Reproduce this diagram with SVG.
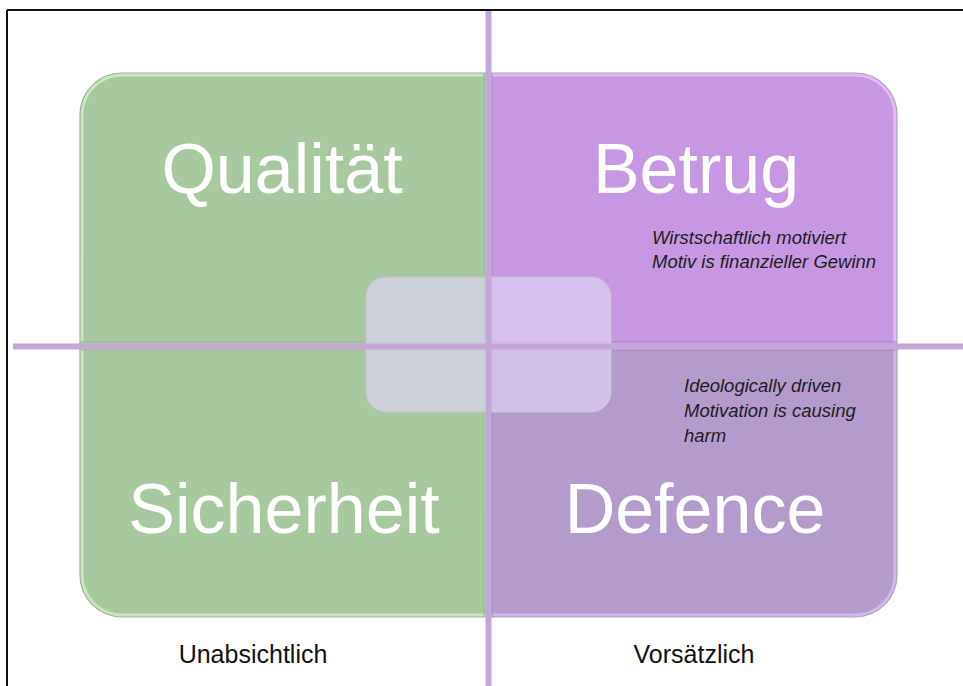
<svg xmlns="http://www.w3.org/2000/svg" width="963" height="686" viewBox="0 0 963 686">
  <style>
    .big { font-family: "Liberation Sans", Arial, sans-serif; font-size: 70px; fill: #ffffff; text-anchor: middle; }
    .note { font-family: "Liberation Sans", Arial, sans-serif; font-size: 18.5px; font-style: italic; fill: #1e1e1e; }
    .axis { font-family: "Liberation Sans", Arial, sans-serif; font-size: 25px; fill: #111111; text-anchor: middle; }
    .outline { fill: none; stroke: #a9a9a9; stroke-width: 1.2; }
    .line { stroke: #c3a7d6; stroke-width: 6; fill: none; }
  </style>
  <defs>
    <path id="pTL" d="M80,346 L80,115 A42,42 0 0 1 122,73 L488,73 L488,346 Z"/>
    <path id="pTR" d="M488,73 L855,73 A42,42 0 0 1 897,115 L897,346 L488,346 Z"/>
    <path id="pBL" d="M80,346 L488,346 L488,617 L122,617 A42,42 0 0 1 80,575 Z"/>
    <path id="pBR" d="M488,346 L897,346 L897,575 A42,42 0 0 1 855,617 L488,617 Z"/>
    <clipPath id="cTL"><use href="#pTL"/></clipPath>
    <clipPath id="cTR"><use href="#pTR"/></clipPath>
    <clipPath id="cBL"><use href="#pBL"/></clipPath>
    <clipPath id="cBR"><use href="#pBR"/></clipPath>
  </defs>

  <rect width="963" height="686" fill="#ffffff"/>

  <!-- frame -->
  <g id="frame">
    <line x1="7" y1="10" x2="963" y2="10" stroke="#111" stroke-width="2"/>
    <line x1="7" y1="10" x2="7" y2="686" stroke="#111" stroke-width="2"/>
  </g>

  <!-- quadrant nodes -->
  <g id="qualitaet">
    <use href="#pTL" fill="#a8c99f"/>
    <g clip-path="url(#cTL)">
      <use href="#pTL" fill="none" stroke="#c6e8ba" stroke-width="7"/>
      <path d="M80,346 L488,346 L488,73" fill="none" stroke="#93b389" stroke-width="10" stroke-opacity="0.55"/>
    </g>
    <use href="#pTL" class="outline"/>
    <text class="big" x="282" y="193">Qualität</text>
  </g>

  <g id="betrug">
    <use href="#pTR" fill="#c698e3"/>
    <g clip-path="url(#cTR)">
      <use href="#pTR" fill="none" stroke="#e3b8fc" stroke-width="7"/>
      <path d="M897,346 L488,346 L488,73" fill="none" stroke="#a67fc2" stroke-width="10" stroke-opacity="0.5"/>
    </g>
    <use href="#pTR" class="outline"/>
    <text class="big" x="696" y="193">Betrug</text>
    <text class="note" x="652" y="244">Wirstschaftlich motiviert</text>
    <text class="note" x="652" y="268">Motiv is finanzieller Gewinn</text>
  </g>

  <g id="sicherheit">
    <use href="#pBL" fill="#a8c99f"/>
    <g clip-path="url(#cBL)">
      <use href="#pBL" fill="none" stroke="#c6e8ba" stroke-width="7"/>
      <path d="M80,346 L488,346 L488,617" fill="none" stroke="#93b389" stroke-width="10" stroke-opacity="0.45"/>
    </g>
    <use href="#pBL" class="outline"/>
    <text class="big" x="284" y="533">Sicherheit</text>
  </g>

  <g id="defence">
    <use href="#pBR" fill="#b39bcc"/>
    <g clip-path="url(#cBR)">
      <use href="#pBR" fill="none" stroke="#d2b6f0" stroke-width="7"/>
      <path d="M897,346 L488,346 L488,617" fill="none" stroke="#9a83b3" stroke-width="10" stroke-opacity="0.45"/>
    </g>
    <use href="#pBR" class="outline"/>
    <text class="big" x="695" y="533">Defence</text>
    <text class="note" x="684" y="392">Ideologically driven</text>
    <text class="note" x="684" y="417">Motivation is causing</text>
    <text class="note" x="684" y="442">harm</text>
  </g>

  <!-- center node -->
  <g id="center">
    <rect x="366" y="277" width="245" height="135" rx="20" ry="20" fill="#dfd4f4" fill-opacity="0.68" stroke="#c9c2d6" stroke-width="1"/>
  </g>

  <!-- axes / connectors -->
  <g id="connectors">
    <line class="line" x1="488.5" y1="11" x2="488.5" y2="686"/>
    <line class="line" x1="13" y1="346.5" x2="963" y2="346.5"/>
  </g>

  <!-- axis labels -->
  <g id="labels">
    <text class="axis" x="253" y="663">Unabsichtlich</text>
    <text class="axis" x="694" y="663">Vorsätzlich</text>
  </g>
</svg>
